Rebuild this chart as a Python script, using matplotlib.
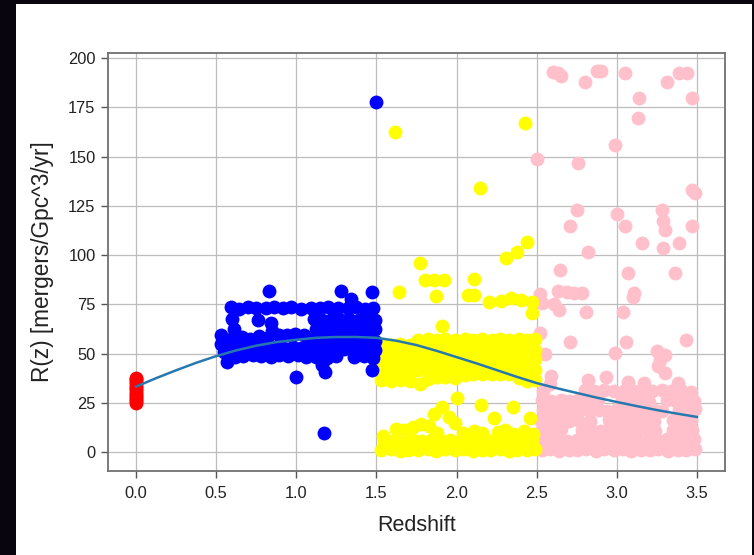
import numpy as np
import matplotlib
matplotlib.use("Agg")
import matplotlib.pyplot as plt
from matplotlib.patches import Rectangle

plt.rcParams['font.family'] = ['Liberation Sans', 'DejaVu Sans']

# ── data ─────────────────────────────────────────────────────────────────────

red_r = [24.9, 25.8, 26.9, 28.0, 29.1, 30.2, 31.4, 32.5, 33.6, 34.8, 35.9, 37.1, 37.7]

blue_pts = [
    # top row
    (0.59, 73.4), (0.64, 72.8), (0.70, 73.5), (0.75, 73.1), (0.81, 72.9), (0.86, 73.4),
    (0.92, 73.0), (0.97, 73.5), (1.03, 72.8), (1.09, 73.3), (1.15, 73.0), (1.20, 73.4),
    (1.26, 72.9), (1.32, 73.2), (1.37, 73.5), (1.43, 72.8), (1.48, 73.3),
    # left edge
    (0.60, 67.5), (0.61, 62.3), (0.59, 57.6), (0.60, 52.8), (0.62, 48.4),
    (0.53, 59.3), (0.53, 54.8), (0.55, 50.8), (0.57, 45.5),
    (0.76, 67.0), (0.84, 65.5), (0.85, 61.5),
    # middle, below the gaps
    (0.66, 58.4), (0.71, 57.6), (0.77, 58.8), (0.82, 57.9), (0.89, 59.6), (0.94, 59.2),
    (0.99, 59.7), (1.05, 59.4),
    (0.65, 53.2), (0.70, 52.6), (0.76, 53.5), (0.81, 52.8), (0.87, 53.4), (0.92, 52.7),
    (0.98, 53.3), (1.03, 52.9), (1.08, 53.6),
    (0.67, 48.6), (0.73, 49.5), (0.78, 48.8), (0.84, 48.2), (0.89, 49.3), (0.95, 48.7),
    (1.01, 49.4), (1.06, 48.5),
    # right block
    (1.11, 67.6), (1.16, 66.9), (1.22, 67.8), (1.28, 67.2), (1.33, 67.5), (1.39, 66.8),
    (1.45, 67.4), (1.49, 67.0),
    (1.12, 62.4), (1.17, 62.9), (1.23, 62.1), (1.29, 62.7), (1.34, 62.3), (1.40, 62.8),
    (1.46, 62.2), (1.49, 62.6),
    (1.11, 57.3), (1.17, 57.9), (1.22, 57.1), (1.28, 57.6), (1.34, 57.2), (1.39, 57.8),
    (1.45, 57.4), (1.49, 56.6),
    (1.13, 52.8), (1.18, 52.2), (1.24, 52.9), (1.30, 52.4), (1.35, 52.7), (1.41, 52.1),
    (1.46, 52.9), (1.49, 51.8),
    (1.12, 48.4), (1.19, 47.8), (1.25, 48.6), (1.36, 48.3), (1.42, 49.0), (1.48, 47.5),
    # scattered
    (1.16, 44.3), (1.18, 40.5), (1.47, 41.6), (1.00, 38.0),
    (0.83, 82.0), (1.28, 82.0), (1.47, 81.5), (1.34, 77.6),
    (1.17, 9.5), (1.497, 177.8),
]

yellow_pts = [
    # main band
    (1.53, 54.6), (1.59, 54.1), (1.65, 54.9), (1.71, 54.3), (1.76, 56.9), (1.82, 57.5),
    (1.88, 56.7), (1.93, 57.3), (1.99, 56.8), (2.05, 57.6), (2.10, 56.9), (2.16, 57.4),
    (2.22, 56.7), (2.27, 57.5), (2.33, 57.0), (2.39, 57.6), (2.44, 56.8), (2.49, 57.3),
    (1.52, 50.3), (1.58, 51.0), (1.64, 50.6), (1.70, 51.4), (1.75, 52.2), (1.81, 51.6),
    (1.87, 52.4), (1.92, 51.8), (1.98, 52.3), (2.04, 51.7), (2.09, 52.5), (2.15, 51.9),
    (2.21, 52.6), (2.26, 51.8), (2.32, 52.4), (2.38, 51.7), (2.43, 52.3), (2.49, 52.0),
    (1.53, 46.2), (1.59, 45.6), (1.65, 46.5), (1.71, 45.8), (1.76, 46.7), (1.82, 47.1),
    (1.88, 46.6), (1.93, 47.4), (1.99, 46.8), (2.05, 47.3), (2.10, 46.7), (2.16, 47.5),
    (2.22, 46.9), (2.27, 47.4), (2.33, 46.8), (2.39, 47.2), (2.44, 46.6), (2.49, 47.3),
    (1.52, 41.4), (1.58, 40.8), (1.64, 41.7), (1.70, 41.0), (1.75, 41.6), (1.81, 42.2),
    (1.87, 41.5), (1.92, 42.4), (1.98, 41.8), (2.04, 42.6), (2.09, 42.0), (2.15, 42.7),
    (2.21, 42.1), (2.26, 42.8), (2.32, 42.2), (2.38, 41.6), (2.43, 41.2), (2.49, 41.8),
    (1.53, 36.4), (1.59, 36.0), (1.65, 36.6), (1.71, 36.2), (1.77, 34.7), (1.82, 37.2),
    (1.88, 37.9), (1.93, 38.2), (1.99, 37.8), (2.05, 39.1), (2.10, 39.7), (2.16, 39.4),
    (2.22, 39.8), (2.27, 39.5), (2.33, 39.6), (2.39, 37.4), (2.44, 36.1), (2.49, 36.5),
    # low cluster
    (1.53, 0.8), (1.59, 1.4), (1.65, 0.6), (1.70, 1.2), (1.76, 0.9), (1.82, 1.5),
    (1.87, 0.7), (1.93, 1.3), (1.99, 0.8), (2.04, 1.4), (2.10, 0.6), (2.16, 1.1),
    (2.21, 0.9), (2.27, 1.5), (2.33, 0.7), (2.38, 1.2), (2.44, 0.9), (2.49, 1.3),
    (1.55, 5.3), (1.61, 5.9), (1.67, 5.1), (1.73, 6.0), (1.78, 5.4), (1.84, 6.2),
    (1.90, 5.5), (1.96, 6.1), (2.01, 5.2), (2.07, 5.8), (2.13, 5.3), (2.19, 6.0),
    (2.24, 5.4), (2.30, 6.1), (2.36, 5.6), (2.41, 5.2), (2.47, 5.9),
    (1.54, 8.3), (1.62, 11.7), (1.67, 11.2), (1.73, 12.6), (1.78, 14.4), (1.83, 13.2),
    (1.88, 9.8), (1.99, 14.7), (2.04, 9.7), (2.11, 10.5), (2.16, 9.4), (2.26, 10.2),
    (2.30, 11.3), (2.35, 9.1), (2.42, 10.6), (2.48, 9.2),
    (1.86, 19.4), (1.91, 23.0), (2.00, 27.4), (1.95, 18.0), (2.15, 24.0), (2.235, 17.2),
    (2.35, 23.1), (2.46, 17.2),
    # upper scattered
    (1.91, 64.0), (2.47, 70.4), (2.47, 76.0), (2.40, 77.0), (2.34, 78.0), (2.28, 76.6),
    (2.20, 76.4), (2.07, 79.9), (2.11, 79.9), (1.87, 79.3), (1.64, 81.4),
    (1.80, 87.3), (1.86, 87.3), (1.92, 87.3), (2.11, 88.0), (1.77, 96.1),
    (2.31, 98.5), (2.38, 101.5), (2.44, 106.6),
    (2.146, 134.0), (1.616, 162.4), (2.43, 167.0),
]

pink_pts = [
    # dense lower part
    (2.53, 0.8), (2.58, 1.4), (2.64, 0.6), (2.70, 1.2), (2.75, 0.9), (2.81, 1.5),
    (2.87, 0.7), (2.92, 1.3), (2.98, 0.8), (3.04, 1.4), (3.09, 0.6), (3.15, 1.1),
    (3.21, 0.9), (3.26, 1.5), (3.32, 0.7), (3.38, 1.2), (3.43, 0.9), (3.49, 1.3),
    (2.52, 6.3), (2.57, 5.6), (2.63, 6.5), (2.69, 5.8), (2.75, 6.2), (2.80, 5.5),
    (2.86, 6.4), (2.92, 5.7), (2.97, 6.3), (3.03, 5.9), (3.09, 6.6), (3.14, 5.6),
    (3.20, 6.2), (3.26, 5.8), (3.31, 6.4), (3.37, 5.7), (3.43, 6.1), (3.48, 6.6),
    (2.53, 11.2), (2.59, 10.6), (2.65, 11.5), (2.78, 11.0), (2.84, 11.6), (2.90, 10.8),
    (2.95, 11.4), (3.01, 10.7), (3.07, 11.3), (3.12, 10.9), (3.18, 11.6), (3.24, 10.8),
    (3.35, 11.2), (3.41, 10.6), (3.47, 11.4),
    (2.52, 16.4), (2.58, 15.8), (2.64, 16.6), (2.70, 15.9), (2.76, 16.3), (2.83, 15.6),
    (2.95, 16.5), (3.01, 15.8), (3.06, 16.2), (3.12, 15.7), (3.18, 16.6), (3.23, 15.9),
    (3.35, 16.1), (3.40, 15.6), (3.46, 16.4),
    (2.54, 21.3), (2.60, 20.7), (2.66, 21.5), (2.71, 20.8), (2.77, 21.2), (2.83, 20.6),
    (2.89, 21.4), (2.94, 20.9), (3.00, 21.6), (3.06, 20.8), (3.11, 21.3), (3.17, 20.7),
    (3.23, 21.5), (3.28, 20.9), (3.39, 21.4), (3.45, 20.8), (3.49, 21.6),
    (2.53, 26.2), (2.59, 25.7), (2.65, 26.4), (2.70, 25.8), (2.76, 26.6), (2.82, 25.9),
    (2.88, 26.3), (3.03, 26.5), (3.09, 25.8), (3.14, 26.2), (3.20, 25.6), (3.31, 26.4),
    (3.37, 25.9), (3.42, 26.6), (3.48, 26.1),
    (2.54, 31.0), (2.58, 34.5), (2.80, 31.5), (2.86, 30.8), (2.92, 31.6), (2.98, 31.2),
    (3.05, 31.4), (3.10, 30.9), (3.16, 31.7), (3.22, 31.0), (3.28, 31.5), (3.34, 30.8),
    (3.40, 31.3), (3.46, 30.7),
    (2.59, 38.4), (2.82, 36.6), (2.93, 38.0), (3.07, 35.6), (3.17, 35.2), (3.30, 40.0),
    (3.38, 35.0),
    # middle
    (2.52, 60.4), (2.55, 50.0), (2.71, 56.0), (3.06, 56.0), (3.43, 57.0), (2.99, 50.2),
    (3.25, 51.5), (3.30, 49.5), (3.27, 46.5), (3.26, 43.5),
    (2.52, 80.0), (2.53, 75.5), (2.63, 81.8), (2.69, 81.4), (2.73, 80.9), (2.78, 80.6),
    (2.61, 75.0), (2.64, 72.3), (2.81, 71.3), (3.04, 71.3), (3.11, 80.6), (3.10, 78.5),
    (3.07, 90.7), (3.36, 90.7), (2.645, 92.4), (2.82, 101.7),
    # upper scattered
    (3.16, 106.0), (3.29, 103.6), (3.39, 106.0), (2.75, 122.8), (2.71, 115.0),
    (3.00, 121.0), (3.05, 115.0), (3.28, 122.8), (3.29, 117.5), (3.30, 112.7),
    (3.47, 115.0), (3.47, 133.0), (3.49, 131.5), (2.50, 149.0), (2.76, 147.0),
    (2.99, 155.8), (3.13, 169.5), (3.14, 179.7), (3.47, 179.7),
    (2.60, 193.0), (2.63, 192.4), (2.65, 190.8), (2.80, 188.0), (2.875, 193.6),
    (2.90, 193.6), (3.05, 192.4), (3.31, 188.0), (3.39, 192.4), (3.44, 192.4),
]

curve_z = [0.0, 0.125, 0.25, 0.375, 0.5, 0.625, 0.75, 0.875, 1.0, 1.125, 1.25, 1.375,
           1.5, 1.625, 1.75, 1.875, 2.0, 2.125, 2.25, 2.375, 2.5, 2.625, 2.75, 2.875,
           3.0, 3.125, 3.25, 3.375, 3.5]
curve_r = [33.2, 37.5, 41.5, 45.3, 48.7, 51.6, 54.0, 55.8, 57.0, 58.0, 58.4, 58.4,
           58.0, 56.5, 54.3, 51.4, 48.2, 45.0, 41.6, 38.2, 35.0, 32.4, 30.0, 27.6,
           25.4, 23.3, 21.3, 19.5, 17.8]

xticks = [0.0, 0.5, 1.0, 1.5, 2.0, 2.5, 3.0, 3.5]
yticks = [0, 25, 50, 75, 100, 125, 150, 175, 200]

# ── figure ───────────────────────────────────────────────────────────────────

fig = plt.figure(figsize=(7.54, 5.55), dpi=100, facecolor="#08050f")
fig.patches.append(Rectangle((16 / 754, 0), 736 / 754, 551 / 555,
                             transform=fig.transFigure, facecolor="white",
                             edgecolor="none", zorder=-10))
ax = fig.add_axes([108 / 754, 1 - 471 / 555, 617 / 754, 418 / 555])
ax.set_zorder(1)

ms = 100
bz, br = zip(*blue_pts)
yz, yr = zip(*yellow_pts)
pz, pr = zip(*pink_pts)
ax.scatter(pz, pr, s=ms, color="pink", linewidths=0, zorder=2)
ax.scatter(yz, yr, s=ms, color="yellow", linewidths=0, zorder=3)
ax.scatter(bz, br, s=ms, color="blue", linewidths=0, zorder=4)
ax.scatter(np.zeros(len(red_r)), red_r, s=ms, color="red", linewidths=0, zorder=4)
ax.plot(curve_z, curve_r, color="#2878b0", lw=1.8, zorder=5)

ax.set_xlim(-0.175, 3.675)
ax.set_ylim(-9.65, 202.65)
ax.set_xticks(xticks)
ax.set_yticks(yticks)
ax.grid(True, color="#bdbdbd", lw=0.9)
ax.set_axisbelow(True)
for sp in ax.spines.values():
    sp.set_color("#707070")
    sp.set_linewidth(1.3)
ax.tick_params(direction="out", length=5, width=1, color="#555555",
               labelsize=11.8, labelcolor="#222222")
ax.tick_params(axis="x", pad=6)
ax.tick_params(axis="y", pad=4)
ax.set_xlabel("Redshift", fontsize=15.5, labelpad=10, color="#222222")
ax.set_ylabel("R(z) [mergers/Gpc^3/yr]", fontsize=16.3, labelpad=10, color="#222222")

fig.savefig("out.png", dpi=100, facecolor=fig.get_facecolor())
